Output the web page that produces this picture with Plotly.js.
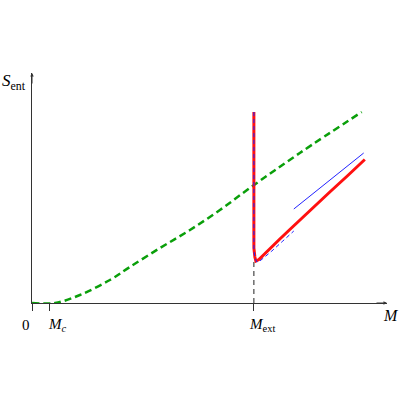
<!DOCTYPE html>
<html>
<head>
<meta charset="utf-8">
<script src="https://cdn.plot.ly/plotly-3.0.1.min.js"></script>
<style>html,body{margin:0;padding:0;background:#fff}#chart{width:400px;height:400px}</style>
</head>
<body>
<div id="chart"></div>
<script>
// values (M_ext = 1)
let Mc = 0.081;
let Mext = 1.0;

let green_x = [0, 0.104, 0.216, 0.351, 0.441, 0.577, 0.712, 0.847, 0.982, 1.207, 1.486];
let green_y = [0, 0, 0.08, 0.23, 0.36, 0.55, 0.73, 0.93, 1.15, 1.50, 1.91];

let red_x = [1.0, 1.0, 1.0045, 1.009, 1.0225, 1.0405, 1.072, 1.1171, 1.1622, 1.2072, 1.2748, 1.3423, 1.4234, 1.5];
let red_y = [1.91, 0.55, 0.46, 0.42, 0.435, 0.475, 0.545, 0.64, 0.735, 0.83, 0.97, 1.11, 1.275, 1.435];

let blue_dash_x = [1.0, 1.0, 1.0045, 1.0135, 1.027, 1.0495, 1.081, 1.1306, 1.18];
let blue_dash_y = [1.91, 0.53, 0.45, 0.41, 0.42, 0.46, 0.52, 0.62, 0.72];

let blue_x = [1.18, 1.495];
let blue_y = [0.94, 1.50];

let ext_x = [Mext, Mext];
let ext_y = [0, 0.41];

let tick_vals = [0, Mc, Mext];
let tick_text = ['0', '<i>M<sub>c</sub></i>', '<i>M</i><sub>ext</sub>'];
let tick_shift = [-6.5, 7.5, 8];

let traces = [
    { x: green_x, y: green_y, type: 'scatter', mode: 'lines',
      line: { color: '#0a9f0a', width: 2.5, dash: '7px,4px', shape: 'spline' } },
    { x: ext_x, y: ext_y, type: 'scatter', mode: 'lines',
      line: { color: '#222', width: 1, dash: '5px,4px' } },
    { x: red_x, y: red_y, type: 'scatter', mode: 'lines',
      line: { color: '#ff1010', width: 3 } },
    { x: blue_dash_x, y: blue_dash_y, type: 'scatter', mode: 'lines',
      line: { color: '#2222ff', width: 1, dash: '4px,3px' } },
    { x: blue_x, y: blue_y, type: 'scatter', mode: 'lines',
      line: { color: '#2222ff', width: 1 } }
];

let annotations = [
    { x: 1.6, y: 0, xref: 'x', yref: 'y', text: '', showarrow: true,
      ax: -12, ay: 0, arrowhead: 2, arrowsize: 0.7, arrowwidth: 1, arrowcolor: '#333' },
    { x: 0, y: 2.3, xref: 'x', yref: 'y', text: '', showarrow: true,
      ax: 0, ay: 12, arrowhead: 2, arrowsize: 0.7, arrowwidth: 1, arrowcolor: '#333' },
    { x: -0.012, y: 0.96, xref: 'paper', yref: 'paper', xanchor: 'right', yanchor: 'middle',
      text: '<i>S</i><sub>ent</sub>', showarrow: false, font: { size: 17 } },
    { x: 1.012, y: -0.055, xref: 'paper', yref: 'paper', xanchor: 'center', yanchor: 'middle',
      text: '<i>M</i>', showarrow: false, font: { size: 16 } }
];

// tick labels sit a little off their ticks in the reference
for (let i = 0; i < tick_vals.length; i++) {
    annotations.push({
        x: tick_vals[i], y: -0.0957, xref: 'x', yref: 'paper',
        xanchor: 'center', yanchor: 'middle', xshift: tick_shift[i],
        text: tick_text[i], showarrow: false, font: { size: 15 }
    });
}

let layout = {
    width: 400,
    height: 400,
    margin: { l: 32, r: 13, t: 73, b: 97 },
    showlegend: false,
    paper_bgcolor: '#fff',
    plot_bgcolor: '#fff',
    font: { family: 'Liberation Serif, serif', size: 14, color: '#000' },
    xaxis: {
        range: [0, 1.6],
        showgrid: false, zeroline: false,
        showline: true, linecolor: '#333', linewidth: 1,
        ticks: 'outside', ticklen: 7, tickcolor: '#333',
        tickvals: tick_vals, showticklabels: false
    },
    yaxis: {
        range: [0, 2.3],
        showgrid: false, zeroline: false,
        showline: true, linecolor: '#333', linewidth: 1,
        showticklabels: false, ticks: ''
    },
    annotations: annotations
};

Plotly.newPlot('chart', traces, layout, { staticPlot: true });
</script>
</body>
</html>
